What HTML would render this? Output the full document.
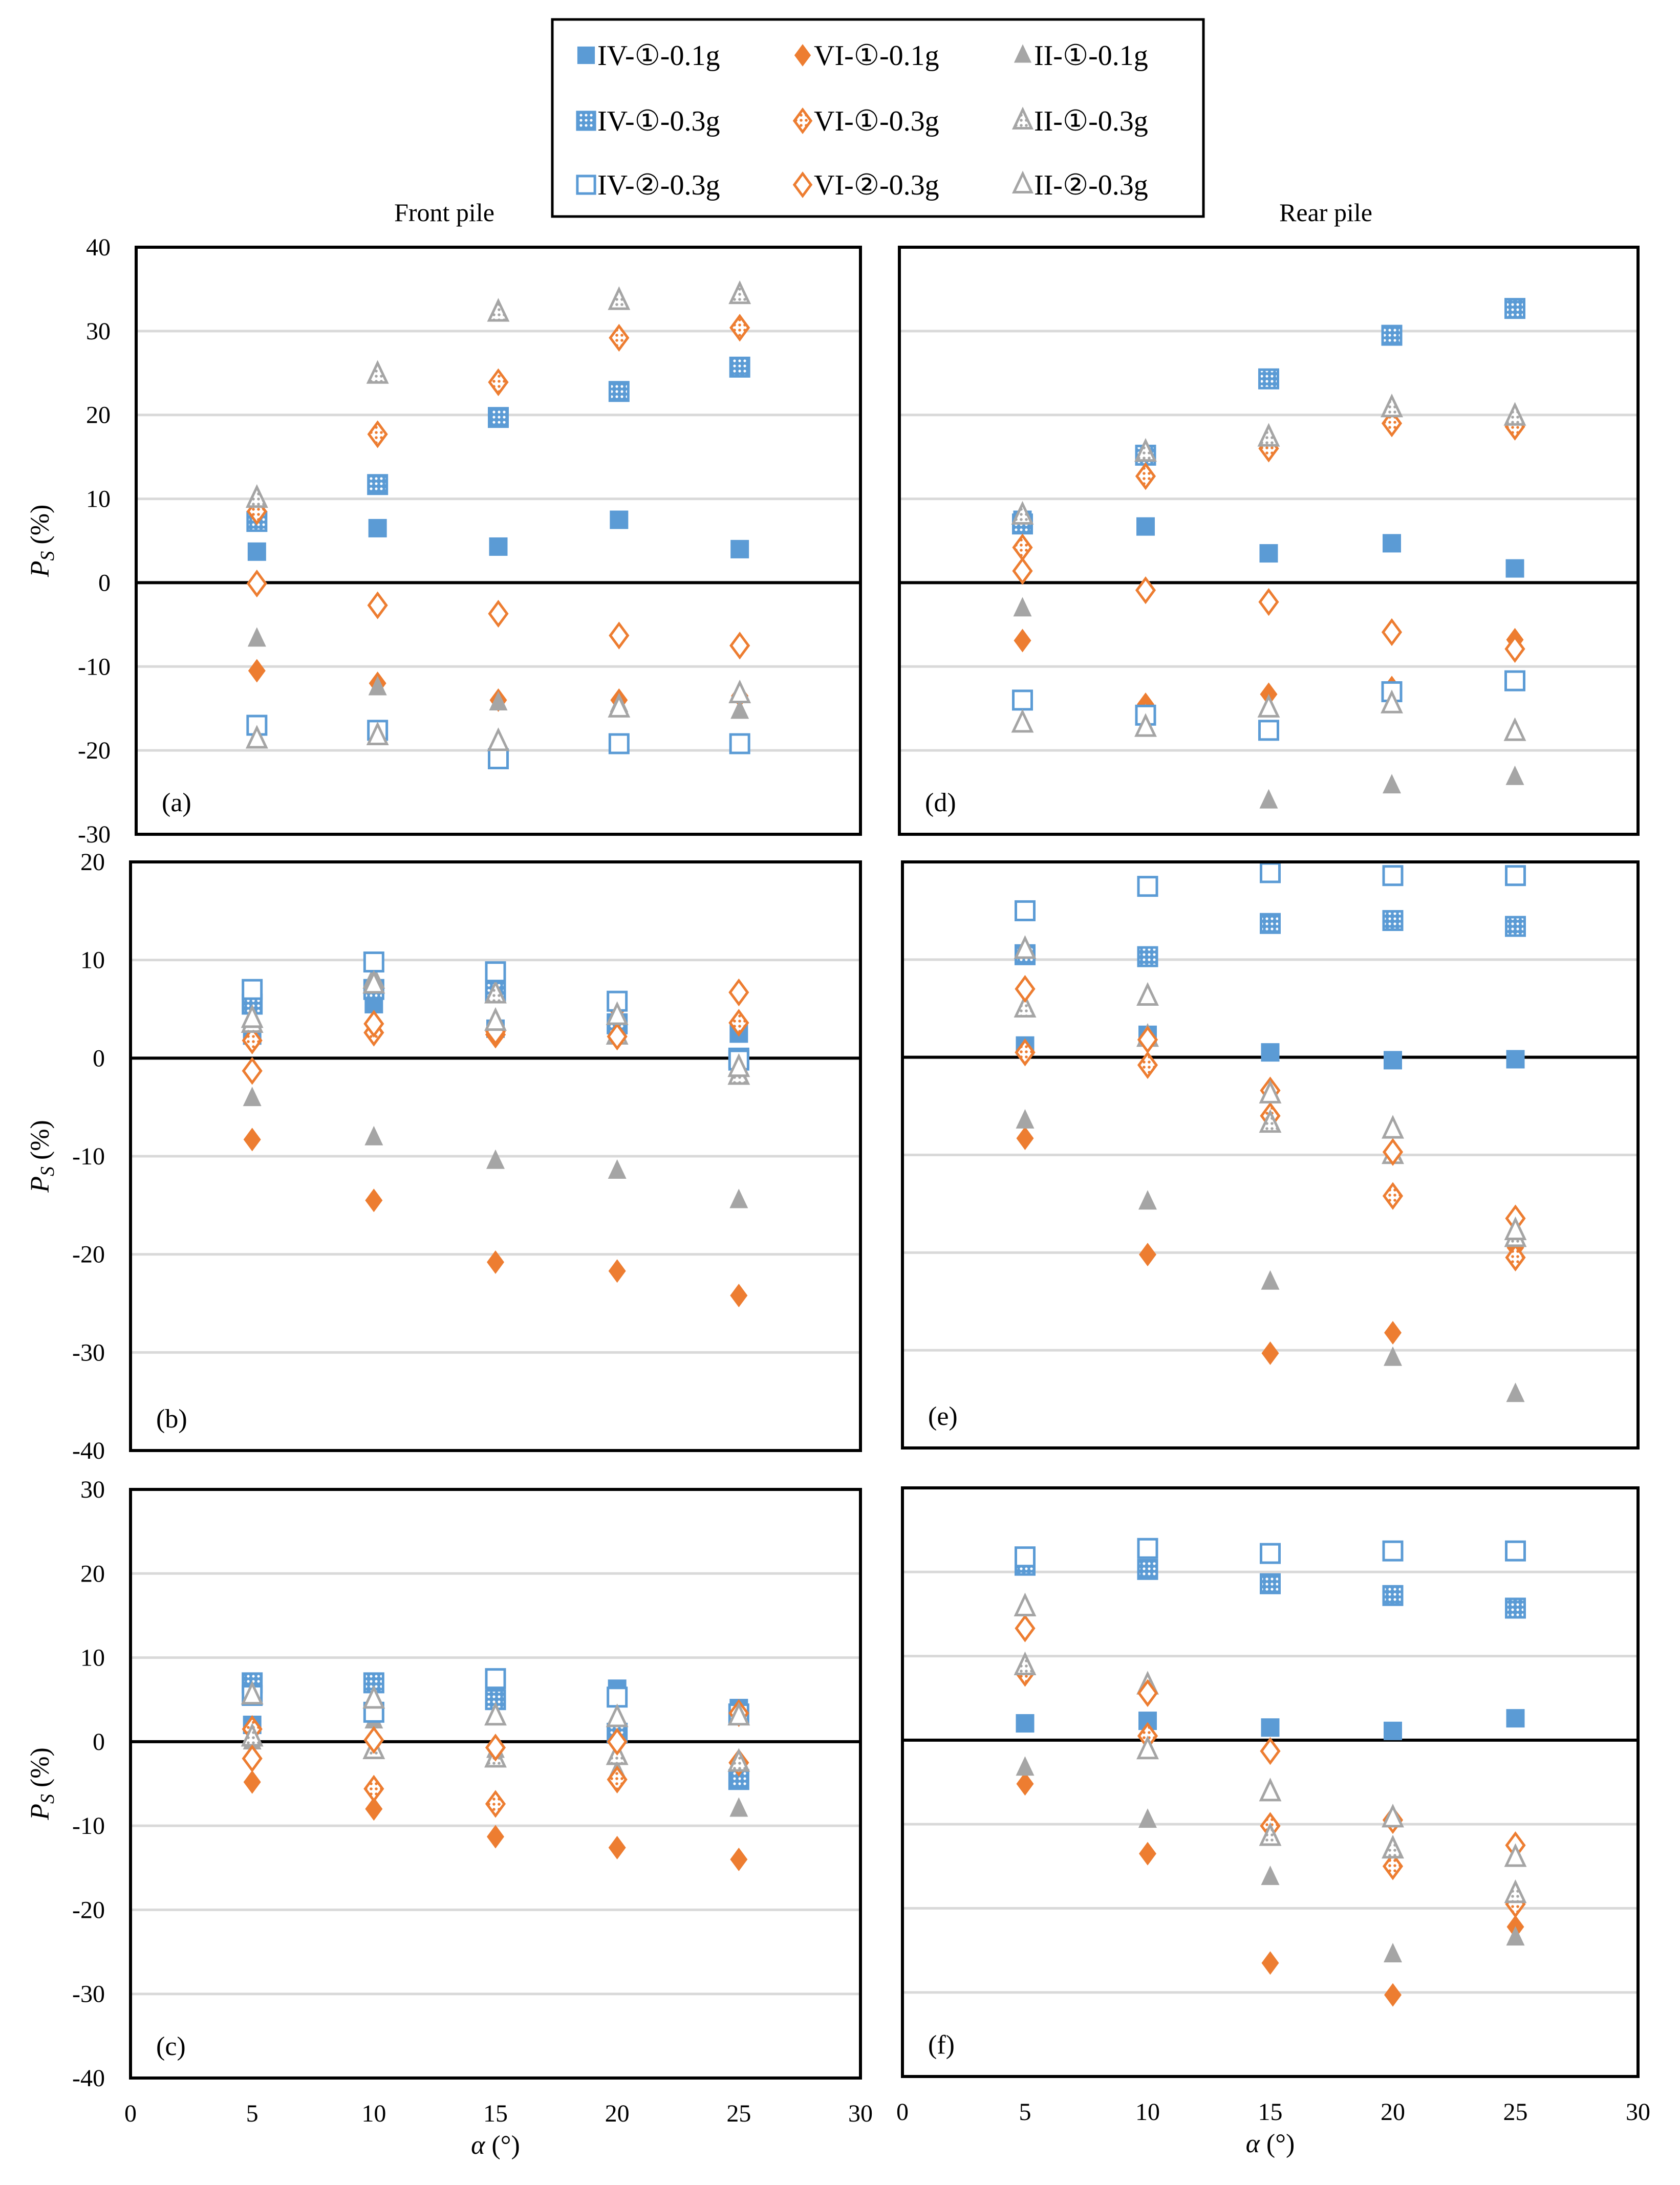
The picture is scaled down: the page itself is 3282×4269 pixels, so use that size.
<!DOCTYPE html>
<html><head><meta charset="utf-8"><style>
html,body{margin:0;padding:0;background:#fff;}
svg{display:block;font-family:"Liberation Serif","DejaVu Serif",serif;}
</style></head><body>
<svg id="fig" width="3282" height="4269" viewBox="0 0 3282 4269" xmlns="http://www.w3.org/2000/svg">
<defs>
<pattern id="pBlue" width="10" height="10" patternUnits="userSpaceOnUse"><rect width="10" height="10" fill="#5b9bd5"/><circle cx="5" cy="5" r="2.6" fill="#fff"/></pattern>
<pattern id="pOr" width="10" height="10" patternUnits="userSpaceOnUse"><rect width="10" height="10" fill="#fff"/><circle cx="5" cy="5" r="2.8" fill="#ed7d31"/></pattern>
<pattern id="pGr" width="10" height="10" patternUnits="userSpaceOnUse"><rect width="10" height="10" fill="#fff"/><circle cx="5" cy="5" r="2.8" fill="#a5a5a5"/></pattern>
</defs>
<g id="legend">
<rect x="1079" y="38" width="1272" height="385" fill="#fff" stroke="#000" stroke-width="5"/>
</g>
<text x="868" y="432" font-size="50" text-anchor="middle">Front pile</text>
<text x="2590" y="432" font-size="50" text-anchor="middle">Rear pile</text>
<g id="plots"></g>
</svg>
<script>
const xCats = [5, 10, 15, 20, 25];
const seriesNames = ["IV-①-0.1g","VI-①-0.1g","II-①-0.1g","IV-①-0.3g","VI-①-0.3g","II-①-0.3g","IV-②-0.3g","VI-②-0.3g","II-②-0.3g"];
// panel (a)
const aIV1_01 = [3.7, 6.5, 4.3, 7.5, 4.0];
const aVI1_01 = [-10.5, -12, -14, -14, -13.5];
const aII1_01 = [-6.7, -12.5, -14.3, -14.5, -15.3];
const aIV1_03 = [7.3, 11.7, 19.7, 22.8, 25.7];
const aVI1_03 = [8.5, 17.7, 23.9, 29.2, 30.4];
const aII1_03 = [10.0, 24.8, 32.2, 33.6, 34.3];
const aIV2_03 = [-17, -17.6, -21, -19.2, -19.2];
const aVI2_03 = [-0.1, -2.7, -3.7, -6.3, -7.5];
const aII2_03 = [-18.7, -18.3, -19, -15, -13.3];
// panel (b)
const bIV1_01 = [2.3, 5.5, 3, 3, 2.5];
const bVI1_01 = [-8.3, -14.5, -20.8, -21.7, -24.2];
const bII1_01 = [-4.1, -8.1, -10.5, -11.5, -14.5];
const bIV1_03 = [5.5, 7, 6.8, 3.5, 0];
const bVI1_03 = [1.8, 2.6, 2.4, 5.2, 3.6];
const bII1_03 = [3.5, 8, 6.5, 2.3, -1.8];
const bIV2_03 = [7.0, 9.8, 8.8, 5.8, -0.2];
const bVI2_03 = [-1.3, 3.5, 2.7, 2.2, 6.7];
const bII2_03 = [4, 7.5, 3.7, 4.3, -1];
// panel (c)
const cIV1_01 = [2, 3.5, 6.5, 6.3, 4];
const cVI1_01 = [-4.8, -8, -11.3, -12.6, -14];
const cII1_01 = [0, 2.5, -1, -3.5, -8];
const cIV1_03 = [7, 7, 5, 1, -4.5];
const cVI1_03 = [1.5, -5.6, -7.4, -4.5, -2.5];
const cII1_03 = [0.5, -1, -2, -1.7, -2.5];
const cIV2_03 = [5.5, 3.5, 7.5, 5.3, 3.3];
const cVI2_03 = [-2, 0.2, -0.7, 0, 3.4];
const cII2_03 = [5.5, 5, 3, 2.8, 3];
// panel (d)
const dIV1_01 = [7.5, 6.7, 3.5, 4.7, 1.7];
const dVI1_01 = [-6.9, -14.5, -13.3, -12.5, -6.8];
const dII1_01 = [-3.1, -15.8, -26, -24.2, -23.2];
const dIV1_03 = [7.0, 15.2, 24.3, 29.5, 32.7];
const dVI1_03 = [4.2, 12.7, 16, 19, 18.6];
const dII1_03 = [8, 15.5, 17.3, 20.8, 19.8];
const dIV2_03 = [-14, -15.8, -17.6, -13, -11.7];
const dVI2_03 = [1.4, -0.9, -2.3, -5.9, -7.9];
const dII2_03 = [-16.8, -17.3, -15, -14.5, -17.8];
// panel (e)
const eIV1_01 = [1.2, 2.3, 0.5, -0.3, -0.2];
const eVI1_01 = [-8.3, -20.2, -30.3, -28.2, -19.5];
const eII1_01 = [-6.5, -14.8, -23, -30.8, -34.5];
const eIV1_03 = [10.5, 10.3, 13.7, 14, 13.4];
const eVI1_03 = [0.5, -0.8, -6, -14.2, -20.5];
const eII1_03 = [5, 2, -6.8, -10, -18.5];
const eIV2_03 = [15, 17.5, 18.9, 18.6, 18.6];
const eVI2_03 = [7, 1.8, -3.4, -9.7, -16.5];
const eII2_03 = [11, 6.2, -3.8, -7.4, -17.8];
// panel (f)
const fIV1_01 = [2, 2.3, 1.5, 1.1, 2.6];
const fVI1_01 = [-5.2, -13.5, -26.5, -30.3, -22.2];
const fII1_01 = [-3.3, -9.5, -16.3, -25.5, -23.5];
const fIV1_03 = [20.8, 20.3, 18.6, 17.2, 15.7];
const fVI1_03 = [8, 0.5, -10.2, -15, -19.5];
const fII1_03 = [8.8, 6.5, -11.5, -13, -18.3];
const fIV2_03 = [21.8, 22.8, 22.2, 22.5, 22.5];
const fVI2_03 = [13.3, 5.6, -1.3, -9.5, -12.5];
const fII2_03 = [15.8, -1.2, -6.2, -9.3, -14];
const yTicksA = [40, 30, 20, 10, 0, -10, -20, -30];
const yTicksB = [20, 10, 0, -10, -20, -30, -40];
const yTicksC = [30, 20, 10, 0, -10, -20, -30, -40];
const xTicks = [0, 5, 10, 15, 20, 25, 30];

const NS = "http://www.w3.org/2000/svg";
const plots = document.getElementById('plots');
function mk(tag, attrs, parent){ const e=document.createElementNS(NS,tag); for(const k in attrs) e.setAttribute(k,attrs[k]); (parent||plots).appendChild(e); return e; }

const BLUE="#5b9bd5", OR="#ed7d31", GR="#a5a5a5";
const styles = [
 {shape:'sq', fill:BLUE, stroke:'none'},
 {shape:'di', fill:OR, stroke:'none'},
 {shape:'tr', fill:GR, stroke:'none'},
 {shape:'sq', fill:'url(#pBlue)', stroke:BLUE},
 {shape:'di', fill:'url(#pOr)', stroke:OR},
 {shape:'tr', fill:'url(#pGr)', stroke:GR},
 {shape:'sq', fill:'#fff', stroke:BLUE},
 {shape:'di', fill:'#fff', stroke:OR},
 {shape:'tr', fill:'#fff', stroke:GR}
];
function marker(st, cx, cy, g, sc){
  sc = sc||1;
  let e;
  if(st.shape==='sq'){ const s=36*sc; e=mk('rect',{x:cx-s/2,y:cy-s/2,width:s,height:s},g); }
  else if(st.shape==='di'){ const w=17*sc,h=23*sc; e=mk('polygon',{points:`${cx},${cy-h} ${cx+w},${cy} ${cx},${cy+h} ${cx-w},${cy}`},g); }
  else { const w=18*sc,h=38*sc; e=mk('polygon',{points:`${cx},${cy-h*0.6} ${cx+w},${cy+h*0.4} ${cx-w},${cy+h*0.4}`},g); }
  e.setAttribute('fill',st.fill);
  e.setAttribute('stroke',st.stroke==='none'?'none':st.stroke);
  e.setAttribute('stroke-width','5');
  return e;
}

const panels = [
 {id:'a',L:266,T:483,R:1681,B:1630,ymax:40,ymin:-30,ticks:yTicksA,data:[aIV1_01,aVI1_01,aII1_01,aIV1_03,aVI1_03,aII1_03,aIV2_03,aVI2_03,aII2_03],left:true},
 {id:'b',L:255,T:1684,R:1681,B:2834,ymax:20,ymin:-40,ticks:yTicksB,data:[bIV1_01,bVI1_01,bII1_01,bIV1_03,bVI1_03,bII1_03,bIV2_03,bVI2_03,bII2_03],left:true},
 {id:'c',L:255,T:2910,R:1681,B:4060,ymax:30,ymin:-40,ticks:yTicksC,data:[cIV1_01,cVI1_01,cII1_01,cIV1_03,cVI1_03,cII1_03,cIV2_03,cVI2_03,cII2_03],left:true,bottom:true},
 {id:'d',L:1757,T:483,R:3200,B:1630,ymax:40,ymin:-30,ticks:yTicksA,data:[dIV1_01,dVI1_01,dII1_01,dIV1_03,dVI1_03,dII1_03,dIV2_03,dVI2_03,dII2_03]},
 {id:'e',L:1763,T:1684,R:3200,B:2829,ymax:20,ymin:-40,ticks:yTicksB,data:[eIV1_01,eVI1_01,eII1_01,eIV1_03,eVI1_03,eII1_03,eIV2_03,eVI2_03,eII2_03]},
 {id:'f',L:1763,T:2907,R:3200,B:4057,ymax:30,ymin:-40,ticks:yTicksC,data:[fIV1_01,fVI1_01,fII1_01,fIV1_03,fVI1_03,fII1_03,fIV2_03,fVI2_03,fII2_03],bottom:true}
];

panels.forEach(p=>{
  const g = mk('g',{});
  
  
  const xs = v => p.L + (v/30)*(p.R-p.L);
  const ys = v => p.T + (p.ymax-v)/(p.ymax-p.ymin)*(p.B-p.T);
  p.ticks.forEach(t=>{
    if(t!==p.ymax && t!==p.ymin && t!==0){
      const gl = mk('line',{x1:p.L,x2:p.R,y1:ys(t),y2:ys(t),stroke:'#d9d9d9','stroke-width':5},g);
      
      
    }
    if(p.left){
      const tl = mk('text',{x:p.L-50,y:ys(t)+16,'font-size':48,'text-anchor':'end'},g);
      tl.textContent = t;
      
      
    }
  });
  const zl = mk('line',{x1:p.L,x2:p.R,y1:ys(0),y2:ys(0),stroke:'#000','stroke-width':6},g);
  
  
  p.data.forEach((arr,si)=>{
    arr.forEach((v,i)=>{
      const m = marker(styles[si], xs(xCats[i]), ys(v), g);
      
      
    });
  });
  const fr = mk('rect',{x:p.L,y:p.T,width:p.R-p.L,height:p.B-p.T,fill:'none',stroke:'#000','stroke-width':6},g);
  
  
  const lb = mk('text',{x:p.L+50,y:p.B-45,'font-size':52},g);
  lb.textContent = '('+p.id+')';
  
  
  if(p.left){
    const yt = mk('text',{transform:`translate(95,${(p.T+p.B)/2}) rotate(-90)`,'font-size':52,'text-anchor':'middle'},g);
    yt.innerHTML = '<tspan font-style="italic">P</tspan><tspan font-style="italic" font-size="38" dy="10">S</tspan><tspan dy="-10"> (%)</tspan>';
    
    
  }
  if(p.bottom){
    xTicks.forEach(t=>{
      const xl = mk('text',{x:xs(t),y:p.B+85,'font-size':48,'text-anchor':'middle'},g);
      xl.textContent = t;
      
      
    });
    const xt = mk('text',{x:(p.L+p.R)/2,y:p.B+148,'font-size':52,'text-anchor':'middle'},g);
    xt.innerHTML = '<tspan font-style="italic">α</tspan> (°)';
    
    
  }
});

// legend
const leg = document.getElementById('legend');
const colX = [1145, 1568, 1998];
const rowY = [108, 236, 361];
seriesNames.forEach((n,i)=>{
  const col = i%3, row = Math.floor(i/3);
  const m = marker(styles[i], colX[col], rowY[row], leg, 0.95);
  
  
  const t = mk('text',{x:colX[col]+22,y:rowY[row]+19,'font-size':56},leg);
  t.textContent = n;
  
  
});
</script>
</body></html>
